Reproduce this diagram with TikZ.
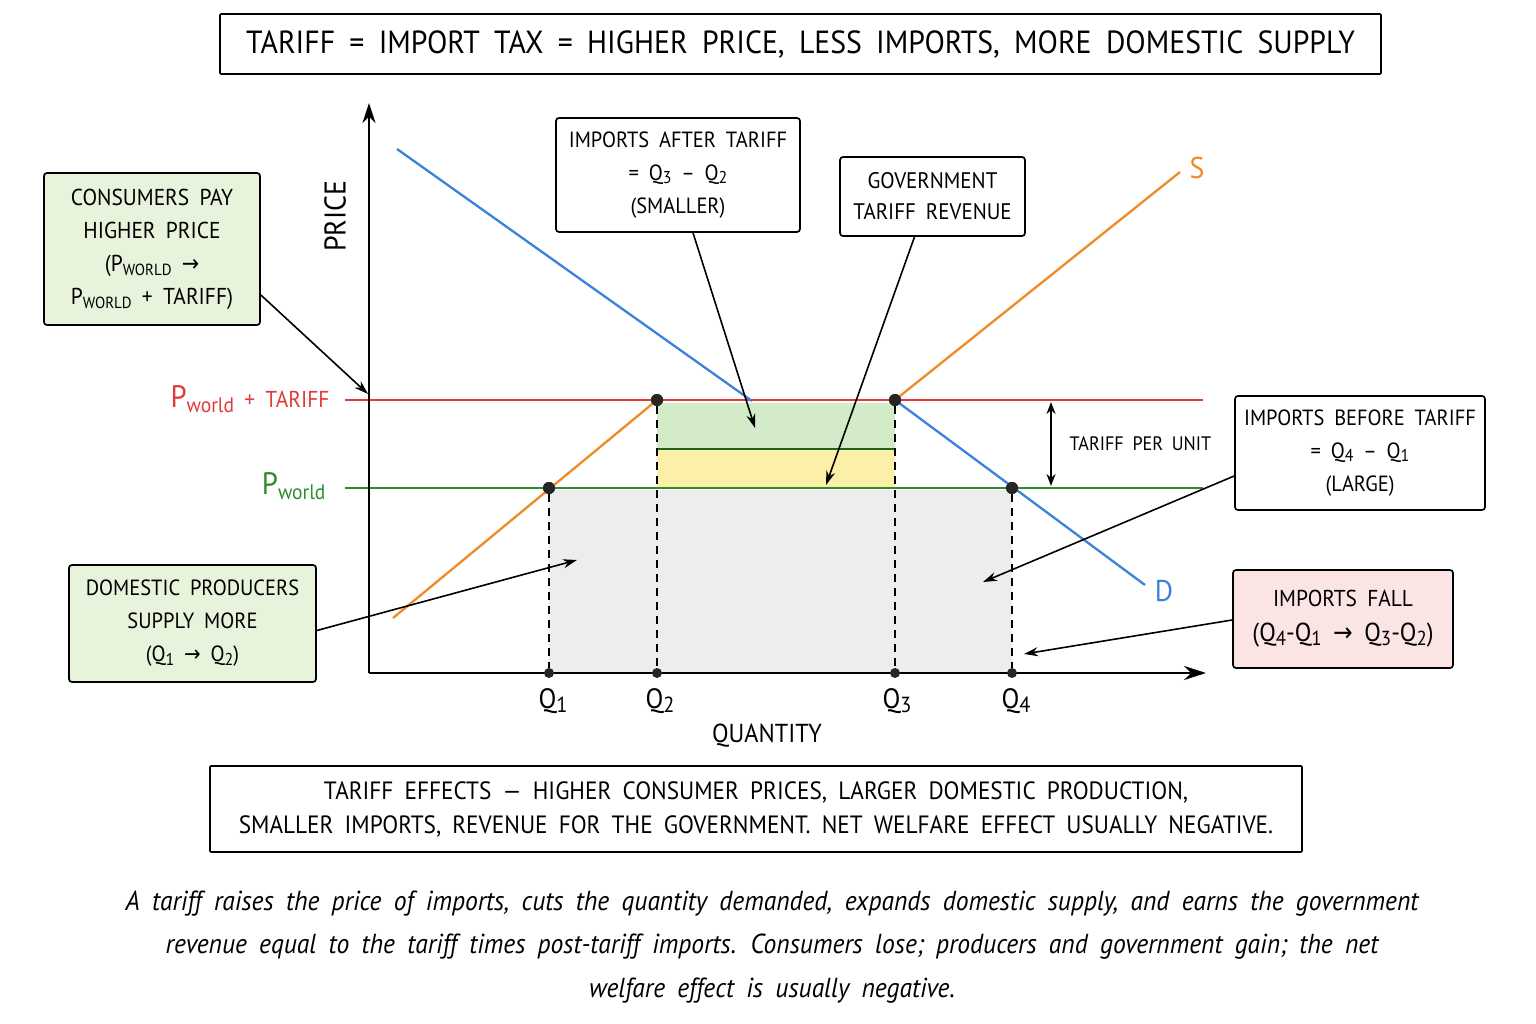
\documentclass[tikz,border=0pt]{standalone}
\usepackage{fontspec}
\setmainfont{PT Sans}[FakeStretch=0.93,WordSpace=1.8]
\newfontfamily\dv{DejaVu Sans}[FakeStretch=0.9]
\usetikzlibrary{arrows.meta}
\definecolor{cred}{HTML}{E03A3A}
\definecolor{cgreen}{HTML}{2E8B2E}
\definecolor{corange}{HTML}{F08A24}
\definecolor{cblue}{HTML}{3B82D9}
\definecolor{fgreen}{HTML}{E8F3DC}
\definecolor{fpink}{HTML}{FBE4E4}
\definecolor{fgray}{HTML}{EDEDED}
\definecolor{rgreen}{HTML}{D3EBC8}
\definecolor{ryellow}{HTML}{FCF0A8}
\newcommand\sbs[1]{\raisebox{-0.35ex}{\scalebox{0.7}{#1}}}
\newcommand\sbl[1]{\raisebox{-0.3ex}{\scalebox{0.78}{#1}}}
\begin{document}
\begin{tikzpicture}[x=1pt,y=-1pt,
  box/.style={draw=black,line width=1.7pt,rounded corners=3pt,align=center,inner sep=0pt},
  bt/.style={font=\fontsize{22}{33}\selectfont},
  call/.style={draw=black,line width=1.6pt,-{Stealth[length=14pt,width=9pt]}},
  dot/.style={circle,fill=black!85,inner sep=0pt,minimum size=12pt},
  vdash/.style={line width=1.5pt,dash pattern=on 8pt off 6pt},
  curve/.style={line width=2.3pt}]
\useasboundingbox (0,0) rectangle (1536,1024);
\fill[white] (0,0) rectangle (1536,1024);
% regions
\fill[fgray] (549,490) rectangle (1012,673);
\fill[rgreen] (657,403) rectangle (895,449);
\fill[ryellow] (657,449) rectangle (895,488);
\draw[cgreen!70!black,line width=1.5pt] (657,449) -- (895,449);
% price lines
\coordinate (rl0) at (345,400); \coordinate (rl1) at (1203,400);
\coordinate (gl0) at (345,488); \coordinate (gl1) at (1203,488);
\draw[cred,curve] (rl0) -- (rl1);
\draw[cgreen,curve] (gl0) -- (gl1);
% axes
\coordinate (O) at (369,673);
\coordinate (ytop) at (369,103);
\coordinate (xend) at (1206,673);
\draw[line width=2.2pt,-{Stealth[length=20pt,width=13pt]}] (O) -- (ytop);
\draw[line width=2.2pt,-{Stealth[length=22pt,width=14pt]}] (O) -- (xend);
% points
\node[dot] (p1) at (549,488) {};
\node[dot] (p2) at (657,400) {};
\node[dot] (p3) at (895,400) {};
\node[dot] (p4) at (1012,488) {};
\node[dot,minimum size=10pt] (a1) at (549,673) {};
\node[dot,minimum size=10pt] (a2) at (657,673) {};
\node[dot,minimum size=10pt] (a3) at (895,673) {};
\node[dot,minimum size=10pt] (a4) at (1012,673) {};
\draw[vdash] (p1) -- (a1);
\draw[vdash] (p2) -- (a2);
\draw[vdash] (p3) -- (a3);
\draw[vdash] (p4) -- (a4);
% supply
\coordinate (s0) at (393,618); \coordinate (s1) at (1180,172);
\draw[corange,curve] (s0) -- (p2.center);
\draw[corange,curve] (p3.center) -- (s1);
\node[text=corange,font=\fontsize{30}{30}\selectfont] (Slab) at (1197,168) {S};
% demand
\coordinate (d0) at (397,149); \coordinate (dm) at (752,401); \coordinate (d1) at (1145,585);
\draw[cblue,curve] (d0) -- (dm);
\draw[cblue,curve] (p3.center) -- (d1);
\node[text=cblue,font=\fontsize{30}{30}\selectfont] (Dlab) at (1164,591) {D};
% redraw dots on top
\foreach \n in {p1,p2,p3,p4} \fill[black!85] (\n) circle (6pt);
% axis labels
\node[rotate=90,font=\fontsize{30}{30}\selectfont] (price) at (335,216) {PRICE};
\node[font=\fontsize{26}{26}\selectfont] (qty) at (767,736) {QUANTITY};
\foreach \q/\x/\i in {q1/553/1,q2/660/2,q3/897/3,q4/1016/4}
  \node[font=\fontsize{28}{28}\selectfont] (\q) at (\x,701) {Q\sbl{\i}};
% price labels
\node[text=cred,anchor=east,font=\fontsize{23}{23}\selectfont] (plabT) at (333,399)
  {{\fontsize{31}{31}\selectfont P}\raisebox{-0.45ex}{\fontsize{21}{21}\selectfont world} + TARIFF};
\node[text=cgreen,anchor=east,font=\fontsize{21}{21}\selectfont] (plabW) at (329,486)
  {{\fontsize{31}{31}\selectfont P}\raisebox{-0.45ex}{world}};
% tariff per unit
\coordinate (tu0) at (1051,402); \coordinate (tu1) at (1051,486);
\draw[line width=1.6pt,{Stealth[length=12pt,width=9pt]}-{Stealth[length=12pt,width=9pt]}] (tu0) -- (tu1);
\node[font=\fontsize{19.5}{20}\selectfont,anchor=west] (tpu) at (1066,444) {TARIFF PER UNIT};
% title
\node[box,rounded corners=1pt,minimum width=1161pt,minimum height=60pt,font=\fontsize{32}{32}\selectfont] (title) at (800.5,44)
  {TARIFF = IMPORT TAX = HIGHER PRICE, LESS IMPORTS, MORE DOMESTIC SUPPLY};
% boxes
\node[box,bt,fill=fgreen,minimum width=216pt,minimum height=152pt,font=\fontsize{23}{33}\selectfont] (cons) at (152,249)
  {CONSUMERS PAY\\HIGHER PRICE\\(P\sbs{WORLD} {\dv →}\\P\sbs{WORLD} + TARIFF)};
\node[box,bt,fill=white,minimum width=244pt,minimum height=114pt] (impA) at (678,175)
  {IMPORTS AFTER TARIFF\\= Q\sbl{3} -- Q\sbl{2}\\(SMALLER)};
\node[box,bt,fill=white,minimum width=185pt,minimum height=79pt,font=\fontsize{22.5}{31}\selectfont] (gov) at (932.5,196.5)
  {GOVERNMENT\\TARIFF REVENUE};
\node[box,bt,fill=white,minimum width=250pt,minimum height=114pt] (impB) at (1360,453)
  {IMPORTS BEFORE TARIFF\\= Q\sbl{4} -- Q\sbl{1}\\(LARGE)};
\node[box,bt,fill=fgreen,minimum width=247pt,minimum height=117pt] (dom) at (192.5,623.5)
  {DOMESTIC PRODUCERS\\SUPPLY MORE\\(Q\sbl{1} {\dv →} Q\sbl{2})};
\node[box,fill=fpink,minimum width=220pt,minimum height=98pt,font=\fontsize{23}{35}\selectfont] (fall) at (1343,619)
  {IMPORTS FALL\\{\fontsize{26}{35}\selectfont(Q\sbl{4}-Q\sbl{1} {\dv →} Q\sbl{3}-Q\sbl{2})}};
\node[box,rounded corners=1pt,fill=white,minimum width=1092pt,minimum height=86pt,font=\fontsize{25}{34}\selectfont] (sum) at (756,809)
  {TARIFF EFFECTS --- HIGHER CONSUMER PRICES, LARGER DOMESTIC PRODUCTION,\\
   SMALLER IMPORTS, REVENUE FOR THE GOVERNMENT. NET WELFARE EFFECT USUALLY NEGATIVE.};
% callout targets
\coordinate (tCons) at (368,394);
\coordinate (tImpA) at (755,428);
\coordinate (tGov) at (826,485);
\coordinate (tImpB) at (983,582);
\coordinate (tDom) at (577,560);
\coordinate (tFall) at (1024,654);
\draw[call] ([yshift=-46pt]cons.east) -- (tCons);
\draw[call] ([xshift=15pt]impA.south) -- (tImpA);
\draw[call] ([xshift=-18pt]gov.south) -- (tGov);
\draw[call] ([yshift=-23pt]impB.west) -- (tImpB);
\draw[call] ([yshift=-7pt]dom.east) -- (tDom);
\draw[call] ([yshift=-1pt]fall.west) -- (tFall);
% caption
\node[align=center,font=\itshape\fontsize{27.5}{43.5}\selectfont] (cap) at (772,947)
  {A tariff raises the price of imports, cuts the quantity demanded, expands domestic supply, and earns the government\\
   revenue equal to the tariff times post-tariff imports. Consumers lose; producers and government gain; the net\\
   welfare effect is usually negative.};
\end{tikzpicture}
\end{document}
